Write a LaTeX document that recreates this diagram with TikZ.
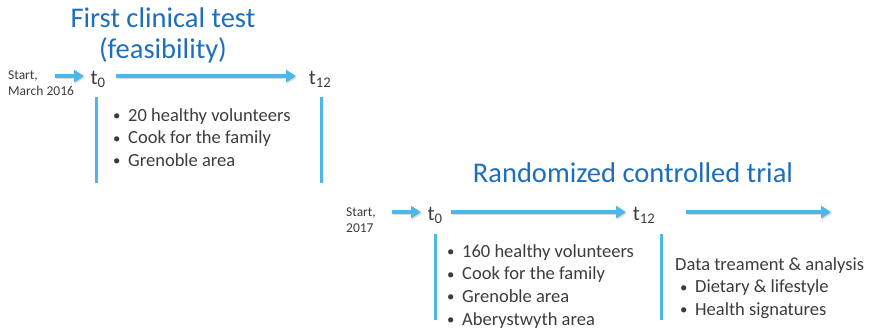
\documentclass[tikz,border=0pt]{standalone}
\usepackage{fontspec}
\setmainfont{Carlito}
\usetikzlibrary{arrows.meta}
\definecolor{ttl}{HTML}{1E6EBE}
\definecolor{arr}{HTML}{4CB8E8}
\definecolor{txt}{HTML}{3C3C3C}
\definecolor{shd}{HTML}{B8B8B8}
\newcommand{\bul}{\makebox[15pt][l]{\raisebox{0.5pt}{\scalebox{0.8}{•}}}}
\tikzset{
  title/.style={text=ttl,font=\fontsize{28.5}{31}\selectfont,inner sep=0pt,align=center},
  small/.style={text=txt,font=\fontsize{13.5}{16}\selectfont,inner sep=0pt,align=left,anchor=west},
  tlabel/.style={text=txt,font=\fontsize{21}{24}\selectfont,inner sep=0pt},
  blist/.style={text=txt,font=\fontsize{18.5}{22.7}\selectfont,inner sep=0pt,align=left,anchor=north west},
  flow/.style={draw=arr,line width=3.6pt,-{Triangle[length=10pt,width=12pt]}},
  flowshadow/.style={draw=shd,line width=3.6pt,-{Triangle[length=10pt,width=12pt]},opacity=0.5},
  bar/.style={draw=arr,line width=3pt},
}
\newcommand{\flowarrow}[2]{%
  \draw[flowshadow,transform canvas={xshift=1pt,yshift=-1.5pt}] (#1) -- (#2);
  \draw[flow] (#1) -- (#2);}
\begin{document}
\begin{tikzpicture}[x=1pt,y=-1pt]
\useasboundingbox (0,0) rectangle (876,328);
% ---- first trial
\node[title] (title1) at (163,35) {First clinical test\\(feasibility)};
\node[small] (start1) at (8,83) {Start,\\March 2016};
\node[tlabel] (t0a) at (98,79) {t\textsubscript{0}};
\node[tlabel] (t12a) at (320,79) {t\textsubscript{12}};
\coordinate (s1a) at (55,76);
\coordinate (s1b) at (84,76);
\coordinate (b1a) at (116,76);
\coordinate (b1b) at (296,76);
\flowarrow{s1a}{s1b}
\flowarrow{b1a}{b1b}
\coordinate (v1t) at (96,97);
\coordinate (v1b) at (96,183);
\coordinate (v2t) at (321,97);
\coordinate (v2b) at (321,183);
\draw[bar] (v1t) -- (v1b);
\draw[bar] (v2t) -- (v2b);
\node[blist] (list1) at (113,108) {\bul20 healthy volunteers\\\bul Cook for the family\\\bul Grenoble area};
% ---- second trial
\node[title] (title2) at (633,173) {Randomized controlled trial};
\node[small] (start2) at (346,220) {Start,\\2017};
\node[tlabel] (t0b) at (435,215) {t\textsubscript{0}};
\node[tlabel] (t12b) at (644,215) {t\textsubscript{12}};
\coordinate (s2a) at (392,212);
\coordinate (s2b) at (421,212);
\coordinate (b2a) at (451,212);
\coordinate (b2b) at (626,212);
\coordinate (c2a) at (686,212);
\coordinate (c2b) at (831,212);
\flowarrow{s2a}{s2b}
\flowarrow{b2a}{b2b}
\flowarrow{c2a}{c2b}
\coordinate (v3t) at (435,234);
\coordinate (v3b) at (435,320);
\coordinate (v4t) at (661,234);
\coordinate (v4b) at (661,320);
\draw[bar] (v3t) -- (v3b);
\draw[bar] (v4t) -- (v4b);
\node[blist] (list2) at (447,244) {\bul160 healthy volunteers\\\bul Cook for the family\\\bul Grenoble area\\\bul Aberystwyth area};
\node[blist] (list3) at (675,257) {Data treament \& analysis\\\hspace{5pt}\bul Dietary \& lifestyle\\\hspace{5pt}\bul Health signatures};
\end{tikzpicture}
\end{document}
